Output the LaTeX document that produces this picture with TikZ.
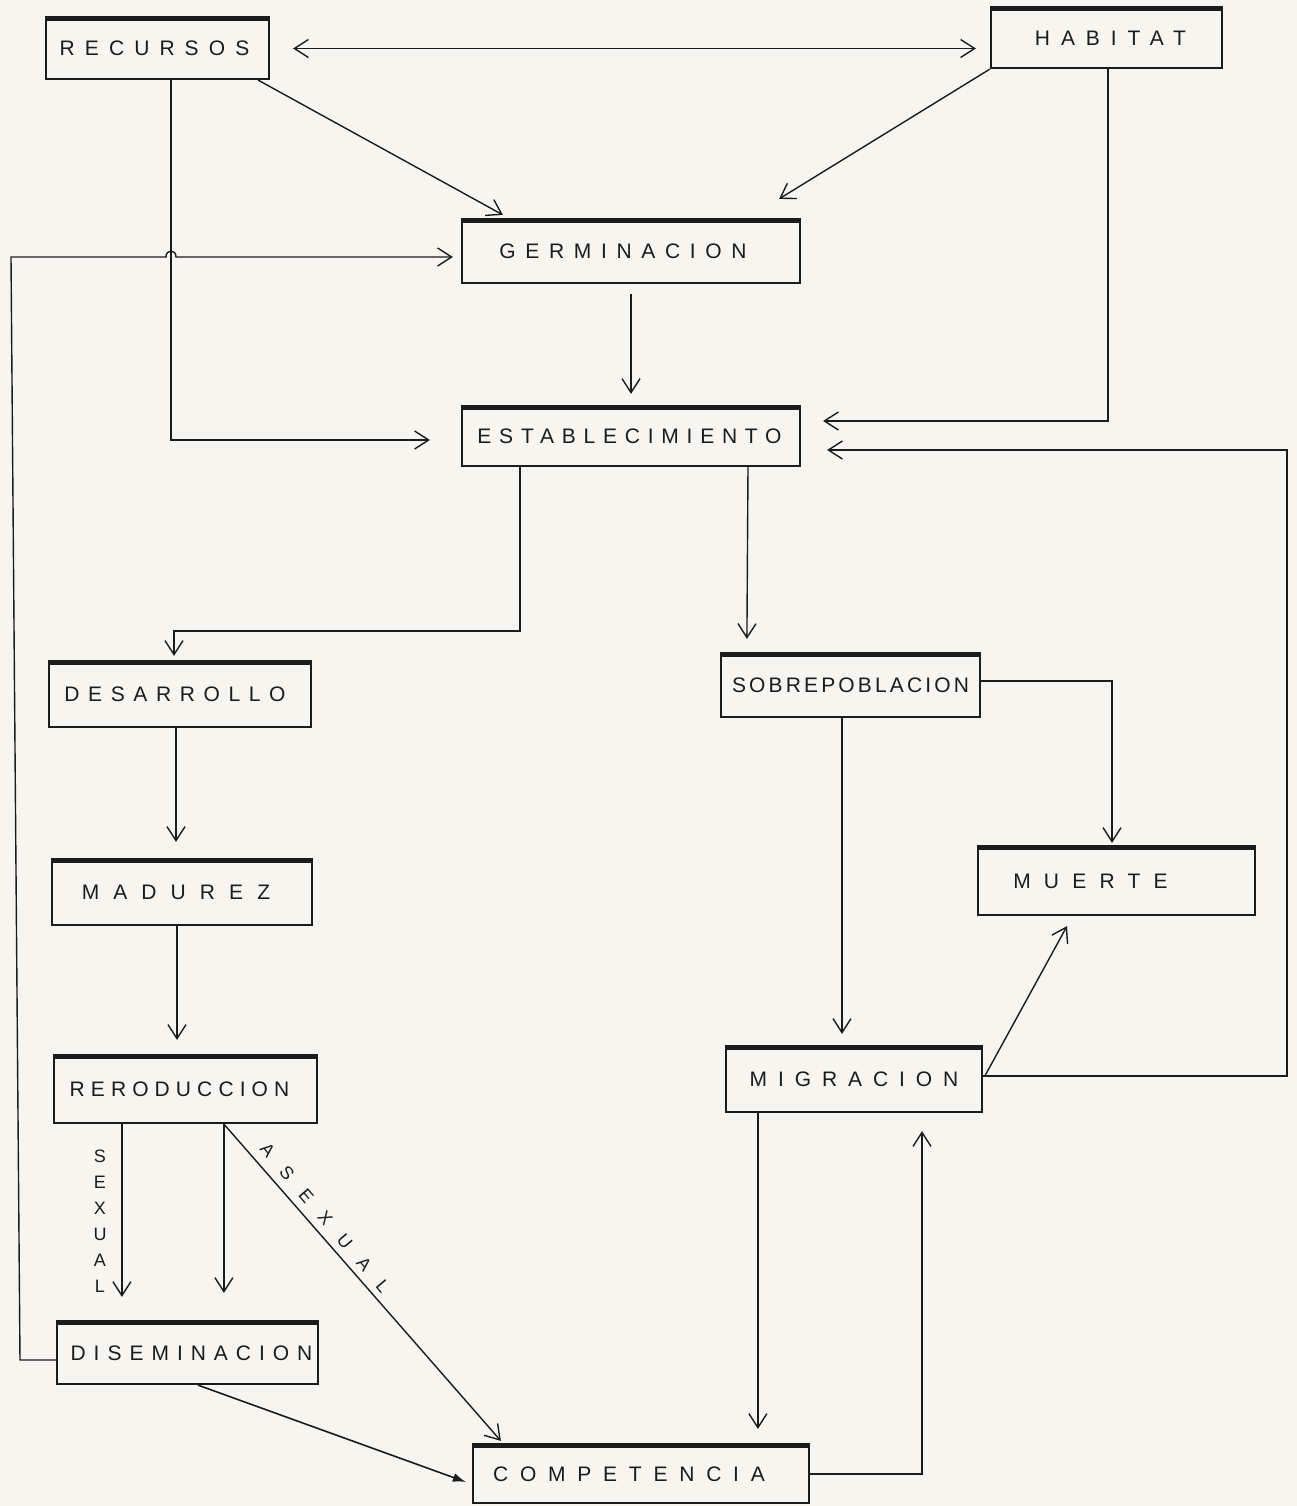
\documentclass[tikz,border=0pt]{standalone}
\usepackage{fontspec}
\setmainfont{Liberation Sans}
\usetikzlibrary{arrows.meta,calc}
\newcommand{\ls}[1]{\addfontfeatures{LetterSpace=#1}}
\definecolor{paper}{RGB}{246,245,240}
\definecolor{ink}{RGB}{28,28,28}
\tikzset{
  box/.style={draw=ink, line width=2.2pt, inner sep=2pt, text=ink,
    font=\fontsize{21pt}{24pt}\selectfont},
  topbar/.style={draw=ink, line width=4.5pt},
  conn/.style={draw=ink, line width=1.4pt, -{Straight Barb[length=14pt,width=18pt]}},
  conn2/.style={draw=ink, line width=1.4pt, {Straight Barb[length=14pt,width=18pt]}-{Straight Barb[length=14pt,width=18pt]}},
  connf/.style={draw=ink, line width=1.6pt, -{Latex[length=13pt,width=9pt]}},
  lettering/.style={text=ink, font=\fontsize{18pt}{26pt}\selectfont, inner sep=0pt}
}
\begin{document}
\begin{tikzpicture}[x=1pt,y=-1pt]
\fill[paper] (0,0) rectangle (1297,1506);
\useasboundingbox (0,0) rectangle (1297,1506);

% boxes
\node[box, minimum width=223pt, minimum height=61pt] (recursos) at (157.5,48.5) {\ls{48}RECURSOS\hspace*{6pt}};
\node[box, minimum width=231pt, minimum height=60pt] (habitat) at (1106.5,38) {\hspace*{8pt}\ls{52}HABITAT};
\node[box, minimum width=338pt, minimum height=63pt] (germinacion) at (631,251.5) {\ls{46}GERMINACION\hspace*{16pt}};
\node[box, minimum width=338pt, minimum height=59pt] (establecimiento) at (631,436.5) {\ls{37}ESTABLECIMIENTO\hspace*{3pt}};
\node[box, minimum width=262pt, minimum height=65pt] (desarrollo) at (180,694.5) {\ls{41}DESARROLLO\hspace*{10pt}};
\node[box, minimum width=260pt, minimum height=65pt] (madurez) at (182,892.5) {\ls{67}MADUREZ\hspace*{12pt}};
\node[box, minimum width=263pt, minimum height=67pt] (reproduccion) at (185.5,1089.5) {\ls{29}RERODUCCION\hspace*{12pt}};
\node[box, minimum width=261pt, minimum height=62pt] (diseminacion) at (187.5,1353) {\hspace*{8pt}\ls{38}DISEMINACION};
\node[box, minimum width=259pt, minimum height=63pt] (sobrepoblacion) at (850.5,685.5) {\ls{15}SOBREPOBLACION};
\node[box, minimum width=277pt, minimum height=68pt] (muerte) at (1116.5,881) {\ls{63}MUERTE\hspace*{52pt}};
\node[box, minimum width=256pt, minimum height=65pt] (migracion) at (854,1079.5) {\ls{52}MIGRACION};
\node[box, minimum width=336pt, minimum height=58pt] (competencia) at (641,1474) {\ls{56}COMPETENCIA\hspace*{24pt}};

\foreach \n in {recursos,habitat,germinacion,establecimiento,desarrollo,madurez,reproduccion,diseminacion,sobrepoblacion,muerte,migracion,competencia}
  \draw[topbar] ([yshift=-1.5pt]\n.north west) -- ([yshift=-1.5pt]\n.north east);

% connectors
\draw[conn2, shorten <=23pt, shorten >=14pt] (recursos.east) -- (habitat.west |- recursos.east);
\draw[conn] ([xshift=-12pt]recursos.south east) -- ([xshift=42pt,yshift=4pt]germinacion.north west);
\draw[conn] (habitat.south west) -- ([xshift=-22pt,yshift=20pt]germinacion.north east);
\draw[conn] ([xshift=13.5pt]recursos.south) |- ([xshift=-31pt,yshift=-3.5pt]establecimiento.west);
\draw[conn] ([yshift=-7pt]diseminacion.west) -- (20,1360) -- (11,257) -- (166,257)
  .. controls (166,249) and (176,249) .. (176,257) -- ([xshift=-8pt,yshift=-5.5pt]germinacion.west);
\draw[conn, shorten <=10pt, shorten >=12pt] (germinacion.south) -- (establecimiento.north);
\draw[conn] ([xshift=-111pt]establecimiento.south) -- ++(0,164) -| ([xshift=-6pt,yshift=5pt]desarrollo.north);
\draw[conn] ([xshift=117pt]establecimiento.south) -- ([xshift=27pt,yshift=14pt]sobrepoblacion.north west);
\draw[conn] ([xshift=1.5pt]habitat.south) |- ([xshift=22pt,yshift=15.5pt]establecimiento.east);
\draw[conn] ([yshift=3.5pt]migracion.east) -- ++(304,0) |- ([xshift=26pt,yshift=-13.5pt]establecimiento.east);
\draw[conn] ([xshift=2pt,yshift=4pt]migracion.east) -- ([xshift=-49.5pt,yshift=-10pt]muerte.south);
\draw[conn] ([yshift=4.5pt]sobrepoblacion.east) -| ([xshift=-4.5pt,yshift=3pt]muerte.north);
\draw[conn] ([xshift=-8.5pt]sobrepoblacion.south) -- ([xshift=-12pt,yshift=12pt]migracion.north);
\draw[conn] ([xshift=33pt]migracion.south west) -- ([xshift=286pt,yshift=15pt]competencia.north west);
\draw[conn] (competencia.east) -| ([xshift=68pt,yshift=-18pt]migracion.south);
\draw[conn] ([xshift=-4pt]desarrollo.south) -- ([xshift=-6pt,yshift=17pt]madurez.north);
\draw[conn] ([xshift=-5pt]madurez.south) -- ([xshift=-8.5pt,yshift=15pt]reproduccion.north);
\draw[conn] ([xshift=69pt]reproduccion.south west) -- ([xshift=66pt,yshift=24pt]diseminacion.north west);
\draw[conn] ([xshift=171pt]reproduccion.south west) -- ([xshift=168pt,yshift=28pt]diseminacion.north west);
\draw[conn] ([xshift=171pt]reproduccion.south west) -- ([xshift=29pt,yshift=3pt]competencia.north west);
\draw[connf] ([xshift=10.5pt]diseminacion.south) -- ([xshift=-6pt,yshift=-8pt]competencia.west);

% labels
\node[lettering, align=center] (sexual) at (100,1221.5) {S\\E\\X\\U\\A\\L};
\node[lettering, rotate=-49.7] (asexual) at (325,1218) {\ls{98}ASEXUAL};
\end{tikzpicture}
\end{document}
